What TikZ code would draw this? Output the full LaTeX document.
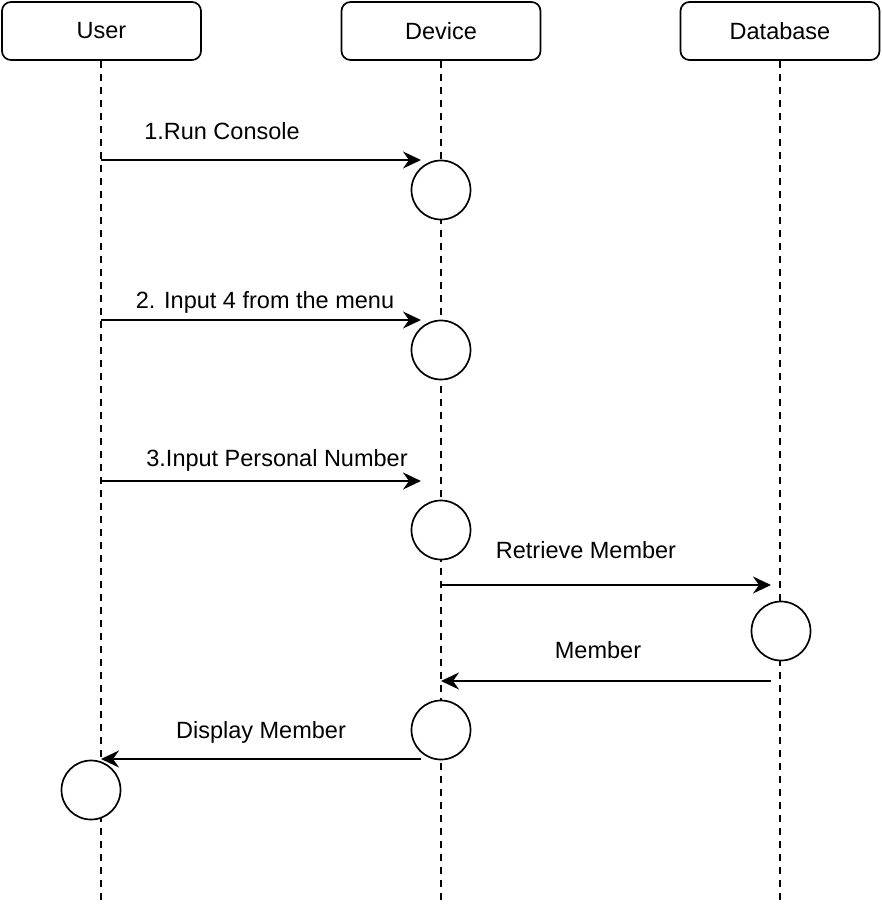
\documentclass[tikz,border=0pt]{standalone}
\usepackage{fontspec}
\setmainfont{Liberation Sans}
\usetikzlibrary{arrows.meta}
\begin{document}
\begin{tikzpicture}[x=1pt,y=-1pt,
  actor/.style={draw, line width=1.7pt, rounded corners=9pt, minimum width=199pt, minimum height=58pt, inner sep=0pt, fill=white},
  act/.style={draw, circle, line width=1.7pt, minimum size=59pt, inner sep=0pt, fill=white},
  life/.style={line width=1.6pt, dash pattern=on 7pt off 6pt},
  msg/.style={line width=1.8pt, -{Stealth[length=18pt,width=17pt,inset=6pt]}},
  lbl/.style={inner sep=0pt, anchor=base},
  font=\fontsize{23.5}{27}\selectfont]
\useasboundingbox (0,0) rectangle (882,904);
% lifelines
\coordinate (uTop) at (101,61);
\coordinate (uBot) at (101,904);
\coordinate (dTop) at (441,61);
\coordinate (dBot) at (441,904);
\coordinate (bTop) at (780,61);
\coordinate (bBot) at (780,904);
\draw[life] (uTop) -- (uBot);
\draw[life] (dTop) -- (dBot);
\draw[life] (bTop) -- (bBot);
% actors
\node[actor] (user) at (101.5,31) {User};
\node[actor] (device) at (441,31) {Device};
\node[actor] (db) at (780,31) {Database};
% activations
\node[act] (d1) at (441,190) {};
\node[act] (d2) at (441,350) {};
\node[act] (d3) at (441,530) {};
\node[act] (d4) at (441,730) {};
\node[act] (b1) at (781,631) {};
\node[act] (u1) at (91,790) {};
% message end points
\coordinate (m1s) at (101,160); \coordinate (m1e) at (421,160);
\coordinate (m2s) at (101,320); \coordinate (m2e) at (421,320);
\coordinate (m3s) at (101,481); \coordinate (m3e) at (421,481);
\coordinate (m4s) at (441,585); \coordinate (m4e) at (771,585);
\coordinate (m5s) at (771,681); \coordinate (m5e) at (441,681);
\coordinate (m6s) at (421,759); \coordinate (m6e) at (101,759);
\draw[msg] (m1s) -- (m1e);
\draw[msg] (m2s) -- (m2e);
\draw[msg] (m3s) -- (m3e);
\draw[msg] (m4s) -- (m4e);
\draw[msg] (m5s) -- (m5e);
\draw[msg] (m6s) -- (m6e);
% labels
\node[lbl] (l1) at (222,139.5) {1.Run Console};
\node[lbl] (l2) at (265,308.5) {2. Input 4 from the menu};
\node[lbl] (l3) at (277,466.5) {3.Input Personal Number};
\node[lbl] (l4) at (586,558.5) {Retrieve Member};
\node[lbl] (l5) at (598,658.5) {Member};
\node[lbl] (l6) at (261,738.5) {Display Member};
\end{tikzpicture}
\end{document}
